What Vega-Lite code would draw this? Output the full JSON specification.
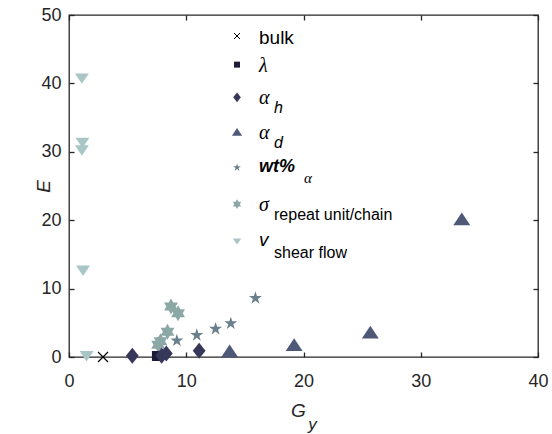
{
  "$schema": "https://vega.github.io/schema/vega-lite/v6.json",
  "width": 469,
  "height": 342,
  "autosize": "none",
  "padding": {"left": 69, "top": 15, "right": 14, "bottom": 77},
  "background": "white",
  "config": {
    "view": {"stroke": "#262626", "strokeWidth": 1.3},
    "axis": {
      "grid": false,
      "domain": false,
      "offset": -5,
      "labelFlush": false,
      "tickColor": "#262626",
      "tickWidth": 1.3,
      "tickSize": 5,
      "labelColor": "#262626",
      "labelFont": "Liberation Sans",
      "labelFontSize": 18,
      "titleColor": "#262626",
      "titleFont": "Liberation Sans",
      "titleFontSize": 19,
      "titleFontStyle": "italic",
      "titleFontWeight": "normal"
    }
  },
  "datasets": {
    "points": [
      {"series": "sigma", "Gy": 8.7, "E": 7.4},
      {"series": "sigma", "Gy": 9.3, "E": 6.4},
      {"series": "sigma", "Gy": 8.4, "E": 3.7},
      {"series": "sigma", "Gy": 7.8, "E": 2.3},
      {"series": "sigma", "Gy": 7.6, "E": 1.8},
      {"series": "wt_alpha", "Gy": 9.2, "E": 2.4},
      {"series": "wt_alpha", "Gy": 10.9, "E": 3.2},
      {"series": "wt_alpha", "Gy": 12.5, "E": 4.1},
      {"series": "wt_alpha", "Gy": 13.8, "E": 4.9},
      {"series": "wt_alpha", "Gy": 15.9, "E": 8.6},
      {"series": "alpha_d", "Gy": 13.7, "E": 0.9},
      {"series": "alpha_d", "Gy": 19.2, "E": 1.8},
      {"series": "alpha_d", "Gy": 25.7, "E": 3.65},
      {"series": "alpha_d", "Gy": 33.5, "E": 20.2},
      {"series": "lambda", "Gy": 7.5, "E": 0.15},
      {"series": "alpha_h", "Gy": 5.4, "E": 0.2},
      {"series": "alpha_h", "Gy": 7.9, "E": 0.2},
      {"series": "alpha_h", "Gy": 8.3, "E": 0.5},
      {"series": "alpha_h", "Gy": 11.1, "E": 0.9},
      {"series": "v", "Gy": 1.1, "E": 40.7},
      {"series": "v", "Gy": 1.15, "E": 31.3},
      {"series": "v", "Gy": 1.1, "E": 30.2},
      {"series": "v", "Gy": 1.2, "E": 12.6},
      {"series": "v", "Gy": 1.5, "E": 0.1},
      {"series": "bulk", "Gy": 2.9, "E": 0}
    ],
    "legend": [
      {"series": "bulk", "rank": 0, "label": "bulk", "sub": ""},
      {"series": "lambda", "rank": 1, "label": "λ", "sub": ""},
      {"series": "alpha_h", "rank": 2, "label": "α", "sub": "h"},
      {"series": "alpha_d", "rank": 3, "label": "α", "sub": "d"},
      {"series": "wt_alpha", "rank": 4, "label": "wt%", "sub": "α"},
      {"series": "sigma", "rank": 5, "label": "σ", "sub": "repeat unit/chain"},
      {"series": "v", "rank": 6, "label": "v", "sub": "shear flow"}
    ]
  },
  "layer": [
    {
      "data": {"name": "points"},
      "encoding": {
        "x": {"field": "Gy", "type": "quantitative", "scale": {"domain": [0, 40], "nice": false},
              "axis": {"orient": "bottom", "values": [0, 10, 20, 30, 40], "title": "G", "labelPadding": 15, "titleX": 229, "titleY": 58, "titleAlign": "center", "titleBaseline": "middle"}},
        "y": {"field": "E", "type": "quantitative", "scale": {"domain": [0, 50], "nice": false},
              "axis": {"orient": "left", "values": [0, 10, 20, 30, 40, 50], "title": "E", "labelPadding": 8, "titleX": -31, "titleY": 171, "titleAngle": -90, "titleAlign": "center", "titleBaseline": "middle"}}
      },
      "layer": [
        {
          "transform": [{"filter": "datum.series !== 'bulk'"}],
          "mark": {"type": "point", "filled": true, "opacity": 1, "size": 256, "strokeWidth": 0},
          "encoding": {
            "shape": {"field": "series", "type": "nominal", "legend": null,
              "scale": {"domain": ["bulk", "lambda", "alpha_h", "alpha_d", "wt_alpha", "sigma", "v"],
                "range": [
                  "M-0.625,-0.625L0.625,0.625M-0.625,0.625L0.625,-0.625",
                  "M-0.625,-0.625L0.625,-0.625L0.625,0.625L-0.625,0.625Z",
                  "M0,-1L0.8,0L0,1L-0.8,0Z",
                  "M0,-0.8L1.06,0.8L-1.06,0.8Z",
                  "M0,-0.855L0.192,-0.264L0.813,-0.264L0.311,0.101L0.503,0.692L0,0.327L-0.503,0.692L-0.311,0.101L-0.813,-0.264L-0.192,-0.264Z",
                  "M0,-1L0.289,-0.5L0.866,-0.5L0.577,0L0.866,0.5L0.289,0.5L0,1L-0.289,0.5L-0.866,0.5L-0.577,0L-0.866,-0.5L-0.289,-0.5Z",
                  "M-0.875,-0.65L0.875,-0.65L0,0.65Z"
                ]}},
            "color": {"field": "series", "type": "nominal", "legend": null,
              "scale": {"domain": ["bulk", "lambda", "alpha_h", "alpha_d", "wt_alpha", "sigma", "v"],
                "range": ["#000000", "#1c1c38", "#37375a", "#4e5977", "#6b808d", "#8ca8a6", "#a9c5c5"]}}
          }
        },
        {
          "transform": [{"filter": "datum.series === 'bulk'"}],
          "mark": {"type": "point", "filled": false, "opacity": 1, "size": 256, "strokeWidth": 1.2},
          "encoding": {
            "shape": {"field": "series", "type": "nominal", "legend": null},
            "color": {"field": "series", "type": "nominal", "legend": null}
          }
        }
      ]
    },
    {
      "data": {"name": "legend"},
      "encoding": {
        "x": {"datum": 14.33, "type": "quantitative", "axis": null, "scale": {"domain": [0, 40], "nice": false}},
        "y": {"field": "rank", "type": "quantitative", "axis": null,
              "scale": {"type": "pow", "exponent": 1.1, "domain": [0, 6], "range": [21, 226.5], "nice": false, "zero": false}}
      },
      "layer": [
        {
          "transform": [{"filter": "datum.series !== 'bulk'"}],
          "mark": {"type": "point", "filled": true, "opacity": 1, "size": 92, "strokeWidth": 0},
          "encoding": {
            "shape": {"field": "series", "type": "nominal", "legend": null},
            "color": {"field": "series", "type": "nominal", "legend": null}
          }
        },
        {
          "transform": [{"filter": "datum.series === 'bulk'"}],
          "mark": {"type": "point", "filled": false, "opacity": 1, "size": 92, "strokeWidth": 1},
          "encoding": {
            "shape": {"field": "series", "type": "nominal", "legend": null},
            "color": {"field": "series", "type": "nominal", "legend": null}
          }
        },
        {
          "transform": [{"filter": "datum.series === 'bulk'"}],
          "mark": {"type": "text", "align": "left", "baseline": "alphabetic", "dx": 22, "dy": 8, "font": "Liberation Sans", "fontSize": 19, "color": "#000000"},
          "encoding": {"text": {"field": "label"}}
        },
        {
          "transform": [{"filter": "datum.series === 'lambda' || datum.series === 'alpha_h' || datum.series === 'alpha_d' || datum.series === 'sigma'"}],
          "mark": {"type": "text", "align": "left", "baseline": "alphabetic", "dx": 22, "dy": 7, "font": "Liberation Serif", "fontSize": 20, "fontStyle": "italic", "color": "#000000"},
          "encoding": {"text": {"field": "label"}}
        },
        {
          "transform": [{"filter": "datum.series === 'v'"}],
          "mark": {"type": "text", "align": "left", "baseline": "alphabetic", "dx": 22, "dy": 4, "font": "Liberation Sans", "fontSize": 19, "fontStyle": "italic", "color": "#000000"},
          "encoding": {"text": {"field": "label"}}
        },
        {
          "transform": [{"filter": "datum.series === 'wt_alpha'"}],
          "mark": {"type": "text", "align": "left", "baseline": "alphabetic", "dx": 22, "dy": 4, "font": "Liberation Sans", "fontSize": 18, "fontStyle": "italic", "fontWeight": "bold", "color": "#000000"},
          "encoding": {"text": {"field": "label"}}
        },
        {
          "transform": [{"filter": "datum.series === 'alpha_h' || datum.series === 'alpha_d'"}],
          "mark": {"type": "text", "align": "left", "baseline": "alphabetic", "dx": 37, "dy": 16, "font": "Liberation Sans", "fontSize": 16, "fontStyle": "italic", "color": "#000000"},
          "encoding": {"text": {"field": "sub"}}
        },
        {
          "transform": [{"filter": "datum.series === 'sigma' || datum.series === 'v'"}],
          "mark": {"type": "text", "align": "left", "baseline": "alphabetic", "dx": 37, "dy": 16, "font": "Liberation Sans", "fontSize": 16, "color": "#000000"},
          "encoding": {"text": {"field": "sub"}}
        },
        {
          "transform": [{"filter": "datum.series === 'wt_alpha'"}],
          "mark": {"type": "text", "align": "left", "baseline": "alphabetic", "dx": 67, "dy": 15, "font": "Liberation Serif", "fontSize": 15, "fontStyle": "italic", "color": "#000000"},
          "encoding": {"text": {"field": "sub"}}
        }
      ]
    },
    {
      "data": {"name": "points"},
      "mark": {"type": "point", "opacity": 0},
      "encoding": {
        "x": {"field": "Gy", "type": "quantitative", "scale": {"domain": [0, 40], "nice": false},
              "axis": {"orient": "top", "values": [0, 10, 20, 30, 40], "labels": false,
                       "title": "y", "titleFontSize": 17, "titleX": 243, "titleY": 404, "titleAngle": 0, "titleAlign": "center", "titleBaseline": "middle"}},
        "y": {"field": "E", "type": "quantitative", "scale": {"domain": [0, 50], "nice": false},
              "axis": {"orient": "right", "values": [0, 10, 20, 30, 40, 50], "labels": false, "title": null}}
      }
    }
  ],
  "resolve": {"scale": {"x": "independent", "y": "independent"}}
}
